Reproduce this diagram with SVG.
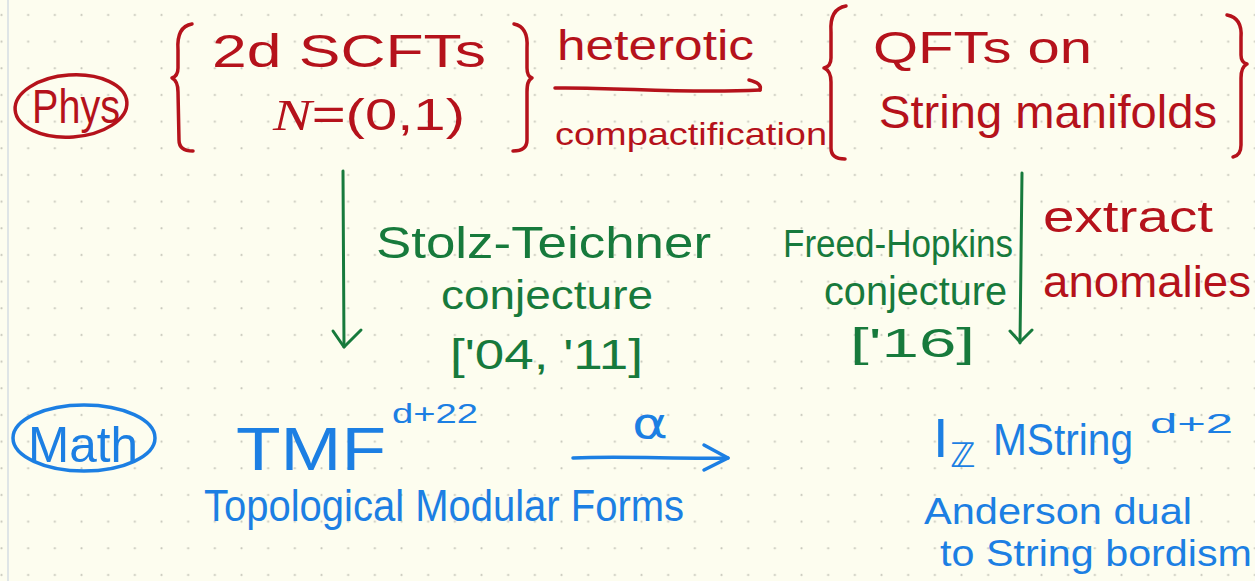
<svg xmlns="http://www.w3.org/2000/svg" width="1255" height="581" viewBox="0 0 1255 581">
<defs>
<pattern id="dots" patternUnits="userSpaceOnUse" x="0" y="0" width="26.667" height="26.667">
<circle cx="1.5" cy="15" r="1.1" fill="#c9c9bd"/>
</pattern>
<style>
.t{font-family:"Liberation Sans","DejaVu Sans",sans-serif;font-weight:400}
.red{fill:#b5121b}
.green{fill:#177a3c}
.blue{fill:#1c7fe3}
.sr{fill:none;stroke:#b5121b;stroke-width:3.5;stroke-linecap:round;stroke-linejoin:round}
.sg{fill:none;stroke:#177a3c;stroke-width:3;stroke-linecap:round;stroke-linejoin:round}
.sb{fill:none;stroke:#1c7fe3;stroke-width:3.5;stroke-linecap:round;stroke-linejoin:round}
</style>
</defs>
<rect width="1255" height="581" fill="#fdfdef"/>
<rect width="1255" height="581" fill="url(#dots)"/>
<line x1="8" y1="0" x2="8" y2="581" stroke="#dfe5e6" stroke-width="2"/>

<g id="phys-label">
<ellipse cx="71" cy="106" rx="56" ry="31" transform="rotate(-4 71 106)" class="sr"/>
<text class="t red" x="32" y="123" font-size="48" textLength="88" lengthAdjust="spacingAndGlyphs">Phys</text>
</g>

<g id="scft-node">
<path class="sr" d="M192 24 C180 26 177 36 178 50 L178 68 C178 74 175 77 172 78 C176 80 178 84 178 92 L179 140 C179 148 185 151 193 151"/>
<text class="t red" x="212" y="67" font-size="46" textLength="274" lengthAdjust="spacingAndGlyphs">2d SCFTs</text>
<text class="t red" x="273" y="130" font-size="44" textLength="192" lengthAdjust="spacingAndGlyphs"><tspan font-style="italic" font-family="Liberation Serif, serif">N</tspan>=(0,1)</text>
<path class="sr" d="M514 24 C524 26 528 34 527 48 L527 68 C527 74 529 77 532 78 C528 80 527 84 527 92 L527 140 C527 148 522 151 513 151"/>
</g>

<g id="qft-node">
<path class="sr" d="M846 6 C834 8 830 18 831 32 L831 58 C831 64 828 67 824 68 C829 70 831 74 831 82 L831 148 C831 156 836 159 845 159"/>
<text class="t red" x="873" y="63" font-size="45" textLength="219" lengthAdjust="spacingAndGlyphs">QFTs on</text>
<text class="t red" x="879" y="128" font-size="46" textLength="338" lengthAdjust="spacingAndGlyphs">String manifolds</text>
<path class="sr" d="M1227 15 C1238 17 1242 26 1241 38 L1241 55 C1241 60 1243 63 1247 64 C1243 66 1241 70 1241 78 L1241 145 C1241 152 1238 156 1233 157"/>
</g>

<g id="math-label">
<ellipse cx="84" cy="438" rx="71" ry="33" class="sb"/>
<text class="t blue" x="28" y="462" font-size="50" textLength="110" lengthAdjust="spacingAndGlyphs">Math</text>
</g>

<g id="tmf-node">
<text class="t blue" x="236" y="470" font-size="62" textLength="150" lengthAdjust="spacingAndGlyphs">TMF</text>
<text class="t blue" x="392" y="423" font-size="28" textLength="86" lengthAdjust="spacingAndGlyphs">d+22</text>
<text class="t blue" x="204" y="521" font-size="44" textLength="480" lengthAdjust="spacingAndGlyphs">Topological Modular Forms</text>
</g>

<g id="imstring-node">
<text class="t blue" x="933" y="457" font-size="56">I</text>
<text class="t blue" x="950" y="467" font-size="34">ℤ</text>
<text class="t blue" x="993" y="455" font-size="44" textLength="140" lengthAdjust="spacingAndGlyphs">MString</text>
<text class="t blue" x="1150" y="433" font-size="28" textLength="83" lengthAdjust="spacingAndGlyphs">d+2</text>
<text class="t blue" x="924" y="524" font-size="36" textLength="268" lengthAdjust="spacingAndGlyphs">Anderson dual</text>
<text class="t blue" x="940" y="566" font-size="36" textLength="312" lengthAdjust="spacingAndGlyphs">to String bordism</text>
</g>

<g id="connectors">
<g id="edge-heterotic">
<path class="sr" d="M555 88 C620 87 680 94 760 90"/>
<path class="sr" d="M749 80 C757 82 762 85 760 90"/>
<text class="t red" x="557" y="60" font-size="42" textLength="197" lengthAdjust="spacingAndGlyphs">heterotic</text>
<text class="t red" x="555" y="145" font-size="32" textLength="272" lengthAdjust="spacingAndGlyphs">compactification</text>
</g>
<g id="edge-stolz-teichner">
<path class="sg" d="M343 171 L344 347"/>
<path class="sg" d="M333 331 L344 347 L361 330"/>
<text class="t green" x="376" y="258" font-size="44" textLength="335" lengthAdjust="spacingAndGlyphs">Stolz-Teichner</text>
<text class="t green" x="441" y="309" font-size="40" textLength="212" lengthAdjust="spacingAndGlyphs">conjecture</text>
<text class="t green" x="450" y="369" font-size="42" textLength="193" lengthAdjust="spacingAndGlyphs">['04, '11]</text>
</g>
<g id="edge-freed-hopkins">
<path class="sg" d="M1022 173 L1020 343"/>
<path class="sg" d="M1010 331 L1020 342 L1032 330"/>
<text class="t green" x="783" y="257" font-size="38" textLength="230" lengthAdjust="spacingAndGlyphs">Freed-Hopkins</text>
<text class="t green" x="824" y="305" font-size="40" textLength="183" lengthAdjust="spacingAndGlyphs">conjecture</text>
<text class="t green" x="850" y="357" font-size="40" textLength="125" lengthAdjust="spacingAndGlyphs">['16]</text>
<text class="t red" x="1043" y="232" font-size="44" textLength="170" lengthAdjust="spacingAndGlyphs">extract</text>
<text class="t red" x="1043" y="297" font-size="44" textLength="208" lengthAdjust="spacingAndGlyphs">anomalies</text>
</g>
<g id="edge-alpha">
<path class="sb" d="M573 458 C620 456 680 459 728 458"/>
<path class="sb" d="M704 445 L728 458 L704 470"/>
<text x="632" y="438" font-size="42" font-family="DejaVu Sans, sans-serif" class="blue" textLength="36" lengthAdjust="spacingAndGlyphs">α</text>
</g>
</g>
</svg>
